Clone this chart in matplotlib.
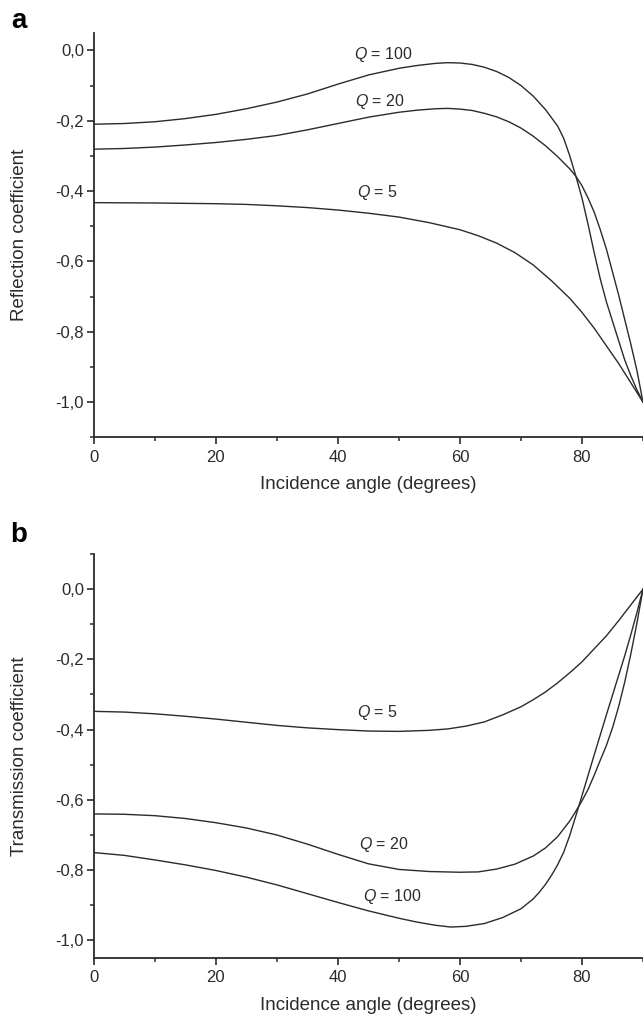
import numpy as np
import matplotlib
matplotlib.use("Agg")
import matplotlib.pyplot as plt
from matplotlib.ticker import MultipleLocator, FuncFormatter

plt.rcParams["font.family"] = ["Liberation Sans", "DejaVu Sans"]
plt.rcParams["mathtext.fontset"] = "custom"
plt.rcParams["mathtext.it"] = "Liberation Sans:italic"
plt.rcParams["mathtext.rm"] = "Liberation Sans"

# Panel a: reflection coefficient vs incidence angle (degrees)
refl_q100_x = [0, 5, 10, 15, 20, 25, 30, 35, 40, 45, 50, 53, 56, 58, 60, 62, 64, 66, 68, 70, 72, 74, 76,
               77, 78, 79, 80, 81, 82, 83, 84, 85, 86, 87, 88, 89, 90]
refl_q100_y = [-0.210, -0.208, -0.203, -0.194, -0.182, -0.166, -0.147, -0.124, -0.096, -0.070, -0.051, -0.043,
               -0.037, -0.035, -0.036, -0.040, -0.048, -0.060, -0.077, -0.100, -0.130, -0.168, -0.215,
               -0.250, -0.300, -0.358, -0.420, -0.495, -0.575, -0.650, -0.715, -0.770, -0.825, -0.880,
               -0.925, -0.965, -1.000]

refl_q20_x = [0, 5, 10, 15, 20, 25, 30, 35, 40, 45, 50, 53, 56, 58, 60, 62, 64, 66, 68, 70, 72, 74, 76,
              78, 79, 80, 81, 82, 83, 84, 85, 86, 87, 88, 89, 90]
refl_q20_y = [-0.281, -0.279, -0.275, -0.269, -0.262, -0.253, -0.242, -0.226, -0.208, -0.190, -0.176, -0.170,
              -0.166, -0.165, -0.167, -0.171, -0.179, -0.189, -0.203, -0.221, -0.244, -0.271, -0.302,
              -0.337, -0.358, -0.385, -0.420, -0.460, -0.510, -0.565, -0.630, -0.695, -0.765, -0.835,
              -0.910, -1.000]

refl_q5_x = [0, 10, 20, 25, 30, 35, 40, 45, 50, 55, 60, 63, 66, 69, 72, 75, 78, 80, 82, 84, 86, 88, 90]
refl_q5_y = [-0.433, -0.434, -0.436, -0.438, -0.442, -0.447, -0.454, -0.463, -0.474, -0.490, -0.510, -0.527,
             -0.548, -0.575, -0.610, -0.655, -0.705, -0.745, -0.790, -0.840, -0.890, -0.945, -1.000]

# Panel b: transmission coefficient vs incidence angle (degrees)
trans_q5_x = [0, 5, 10, 15, 20, 25, 30, 35, 40, 45, 50, 55, 58, 61, 64, 67, 70, 72, 74, 76, 78, 80, 82,
              84, 86, 88, 90]
trans_q5_y = [-0.348, -0.350, -0.355, -0.362, -0.370, -0.379, -0.388, -0.395, -0.400, -0.404, -0.405, -0.402,
              -0.398, -0.390, -0.378, -0.358, -0.335, -0.315, -0.293, -0.267, -0.238, -0.207, -0.170,
              -0.133, -0.090, -0.045, 0.000]

trans_q20_x = [0, 5, 10, 15, 20, 25, 30, 35, 40, 45, 50, 55, 60, 63, 66, 69, 72, 74, 76, 78, 79, 80, 81,
               82, 83, 84, 85, 86, 87, 88, 89, 90]
trans_q20_y = [-0.640, -0.641, -0.645, -0.653, -0.665, -0.680, -0.700, -0.726, -0.755, -0.782, -0.798, -0.804,
               -0.806, -0.805, -0.797, -0.783, -0.760, -0.737, -0.705, -0.660, -0.632, -0.603, -0.570,
               -0.530, -0.487, -0.445, -0.395, -0.335, -0.265, -0.185, -0.097, 0.000]

trans_q100_x = [0, 5, 10, 15, 20, 25, 30, 35, 40, 45, 50, 53, 56, 58.5, 61, 64, 67, 70, 72, 73, 74, 75,
                76, 77, 78, 79, 80, 81, 82, 83, 84, 85, 86, 87, 88, 89, 90]
trans_q100_y = [-0.750, -0.758, -0.771, -0.785, -0.801, -0.820, -0.842, -0.867, -0.892, -0.916, -0.937, -0.948,
                -0.957, -0.962, -0.960, -0.952, -0.935, -0.910, -0.882, -0.863, -0.841, -0.815,
                -0.785, -0.749, -0.701, -0.645, -0.588, -0.530, -0.472, -0.415, -0.358, -0.302, -0.246,
                -0.190, -0.130, -0.067, 0.000]

# curve labels: (Q value, angle, coefficient)
refl_labels = [("100", 47.5, -0.012), ("20", 46.9, -0.146), ("5", 46.5, -0.404)]
trans_labels = [("5", 46.5, -0.350), ("20", 47.5, -0.727), ("100", 48.9, -0.876)]

ink = "#2b2b2b"


def comma_fmt(v, pos):
    return f"{v:.1f}".replace(".", ",").replace("-0,0", "0,0")


def style_axes(ax, ylim, ylabel, xlabel):
    ax.set_xlim(0, 90)
    ax.set_ylim(*ylim)
    for side in ("top", "right"):
        ax.spines[side].set_visible(False)
    for side in ("left", "bottom"):
        ax.spines[side].set_color(ink)
        ax.spines[side].set_linewidth(1.3)
    ax.xaxis.set_major_locator(MultipleLocator(20))
    ax.xaxis.set_minor_locator(MultipleLocator(10))
    ax.yaxis.set_major_locator(MultipleLocator(0.2))
    ax.yaxis.set_minor_locator(MultipleLocator(0.1))
    ax.yaxis.set_major_formatter(FuncFormatter(comma_fmt))
    ax.tick_params(which="major", direction="out", length=5, width=1.2, color=ink,
                   labelsize=12, labelcolor=ink)
    ax.tick_params(which="minor", direction="out", length=3, width=1.1, color=ink)
    ax.tick_params(axis="x", which="major", pad=4)
    ax.tick_params(axis="y", which="major", pad=2)
    ax.set_xlabel(xlabel, fontsize=13.5, color=ink, labelpad=8)
    ax.set_ylabel(ylabel, fontsize=13.5, color=ink, labelpad=20)


def add_labels(ax, labels):
    for q, x, y in labels:
        ax.text(x, y, f"$\\it{{Q}}$ = {q}", fontsize=11.5, color=ink, ha="center", va="center")


fig = plt.figure(figsize=(6.43, 10.24), dpi=100)
ax_a = fig.add_axes([0.146, 0.573, 0.854, 0.395])
ax_b = fig.add_axes([0.146, 0.0645, 0.854, 0.3945])

for xs, ys in [(refl_q100_x, refl_q100_y), (refl_q20_x, refl_q20_y), (refl_q5_x, refl_q5_y)]:
    ax_a.plot(xs, ys, color=ink, lw=1.0)
style_axes(ax_a, (-1.1, 0.05), "Reflection coefficient", "Incidence angle (degrees)")
add_labels(ax_a, refl_labels)

for xs, ys in [(trans_q5_x, trans_q5_y), (trans_q20_x, trans_q20_y), (trans_q100_x, trans_q100_y)]:
    ax_b.plot(xs, ys, color=ink, lw=1.0)
style_axes(ax_b, (-1.05, 0.1), "Transmission coefficient", "Incidence angle (degrees)")
add_labels(ax_b, trans_labels)

fig.text(0.0295, 0.9727, "a", fontsize=20, fontweight="bold", color="black", ha="center", va="baseline")
fig.text(0.0295, 0.4707, "b", fontsize=20, fontweight="bold", color="black", ha="center", va="baseline")

fig.savefig("out.png", dpi=100)
